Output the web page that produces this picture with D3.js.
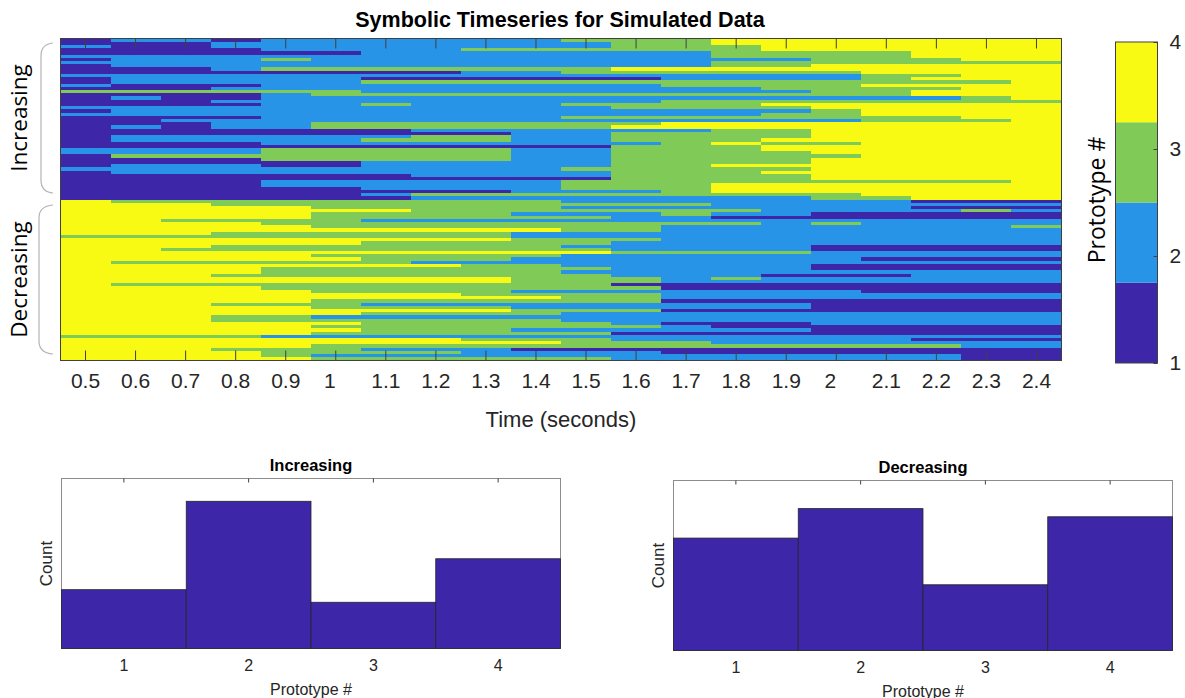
<!DOCTYPE html>
<html lang="en">
<head>
<meta charset="UTF-8" />
<title>Symbolic Timeseries</title>
<script src="https://d3js.org/d3.v7.min.js"></script>
<style>
  body { margin: 0; background: #fff; }
  svg { display: block; }
</style>
</head>
<body>
<div id="chart"></div>
<script>
// ----------- Data ----------- //

var times = ["0.5","0.6","0.7","0.8","0.9","1","1.1","1.2","1.3","1.4",
             "1.5","1.6","1.7","1.8","1.9","2","2.1","2.2","2.3","2.4"];

// one string per trial, one digit per time step (prototype #)
var increasingRows = [
  "12212222223334444444","11122222222334444444","21122222222333444444","11112222333333444444",
  "11111122222223333444","22222222222223333444","12223222222222233344","22222222222223333333",
  "12222222222223344444","11123333333444444444","11111111223333334444","22222222222222223344",
  "12222211111122223444","12222233333333333334","21112222222233334444","11122222222222333344",
  "33333322222222233444","11112333333333333444","12112222222222222234","11122222222233333333",
  "11112232223333444444","22222222222333344444","12222222222222234444","22222222222222334444",
  "11112222223333333344","11222222222222223334","11122333333344444444","12122333333444444444",
  "11111112222223344444","11111111122333344444","12222223322333344444","12222233322333444444",
  "11112222222234334444","11111111111333444444","22223333322333444444","22223333322333344444",
  "13333333322333334444","11113333322333344444","11111122222333344444","12221122222334444444",
  "22222222223333344444","12222222222333444444","11111112222333344444","11111111111333344444",
  "11112222223333333334","11112222223334444444","11111122223334444444","11111111122234444444",
  "11111123333333334444","11111112222222233444"
];

var decreasingRows = [
  "43333333332222222111","44433333333332222222","44444333332222222111","44444443333333222232",
  "44444333322232211111","44444333333221111111","44333322222222222222","44443333333333232222",
  "44444333333322222223","44444444443322222222","44433333322222222222","33333333322222222222",
  "44444444433322222222","44444433333222222222","44433333332222211111","44333333333222211111",
  "44444444444333322222","44444333332222222222","44444433322222221111","43333332222222222222",
  "44444444332222211111","44443333333222211111","44443333332222222222","44433333333222111222",
  "44444444433323222222","44444444433322222222","43333333333111111111","44443333333311111111",
  "44444333322222221111","44444444333322222222","44444444443322222222","44444333333311111111",
  "44433322222222211111","44444333322222211111","44444444433311111111","44444433332222222222",
  "44433222222222222222","44433333332222222222","44444433333211122222","44444333333321111111",
  "44444433322222211111","44444333333111111111","33332222222222222222","44444444333222222111",
  "44444444443332222222","44444333333333333322","44433322211111111111","44443333222211111111",
  "44443222222222222211","44444333333222222211"
];

var prototypes = [1, 2, 3, 4];
var protoColors = ["#3e26a8", "#2894e8", "#80cb58", "#f8fa14"];

// histogram counts per prototype (no tick labels on the count axis)
var countsIncreasing = [173, 433, 136, 264];
var countsDecreasing = [248, 313, 145, 295];

// ----------- Setup ----------- //

var W = 1185, H = 698;
var svg = d3.select("#chart").append("svg")
  .attr("width", W).attr("height", H)
  .style("background", "white");

var rows = increasingRows.concat(decreasingRows).map(function (s) {
  return s.split("").map(Number);
});

var color = d3.scaleOrdinal().domain(prototypes).range(protoColors);

// ----------- Heatmap ----------- //

var hm = { left: 60.5, right: 1061.5, top: 38.5, bottom: 360.5 };

var x = d3.scaleBand().domain(times).range([hm.left, hm.right]);
var y = d3.scaleBand().domain(d3.range(rows.length)).range([hm.top, hm.bottom]);

var cells = [];
rows.forEach(function (r, i) {
  r.forEach(function (v, j) { cells.push({ row: i, t: times[j], v: v }); });
});

svg.append("g")
  .attr("shape-rendering", "crispEdges")
  .selectAll("rect")
  .data(cells)
  .enter()
  .append("rect")
    .attr("x", function (d) { return x(d.t); })
    .attr("y", function (d) { return y(d.row); })
    .attr("width", x.bandwidth() + 0.6)
    .attr("height", y.bandwidth() + 0.6)
    .attr("fill", function (d) { return color(d.v); });

svg.append("rect")
  .attr("x", hm.left).attr("y", hm.top)
  .attr("width", hm.right - hm.left).attr("height", hm.bottom - hm.top)
  .attr("fill", "none").attr("stroke", "#404040").attr("stroke-width", 1);

var xAxis = d3.axisBottom(x)
  .tickSize(-10)
  .tickPadding(13)
  .tickSizeOuter(0);

var gx = svg.append("g")
  .attr("transform", "translate(0," + hm.bottom + ")")
  .call(xAxis);
gx.select(".domain").remove();
gx.selectAll("line").attr("stroke", "#404040");
gx.selectAll("text")
  .attr("font-family", "Liberation Sans, Arial, sans-serif")
  .attr("font-size", 21)
  .attr("fill", "#262626")
  .attr("dx", function (d) { return d.indexOf(".") < 0 ? -6 : 0; });

var gxTop = svg.append("g")
  .attr("transform", "translate(0," + hm.top + ")")
  .call(d3.axisTop(x).tickSize(-10).tickFormat("").tickSizeOuter(0));
gxTop.select(".domain").remove();
gxTop.selectAll("line").attr("stroke", "#404040");

svg.append("text")
  .attr("x", (hm.left + hm.right) / 2)
  .attr("y", 427)
  .attr("text-anchor", "middle")
  .attr("font-family", "Liberation Sans, Arial, sans-serif")
  .attr("font-size", 22)
  .attr("fill", "#262626")
  .text("Time (seconds)");

svg.append("text")
  .attr("x", 560)
  .attr("y", 27)
  .attr("text-anchor", "middle")
  .attr("font-family", "Liberation Sans, Arial, sans-serif")
  .attr("font-weight", "bold")
  .attr("font-size", 21.5)
  .attr("fill", "#000")
  .text("Symbolic Timeseries for Simulated Data");

// group labels with brackets
var groups = [
  { name: "Increasing", y0: 43, y1: 193, xLine: 41 },
  { name: "Decreasing", y0: 205, y1: 354, xLine: 39 }
];

groups.forEach(function (g) {
  var p = d3.path();
  p.moveTo(53, g.y0);
  p.quadraticCurveTo(g.xLine, g.y0 + 1, g.xLine, g.y0 + 13);
  p.lineTo(g.xLine, g.y1 - 13);
  p.quadraticCurveTo(g.xLine, g.y1 - 1, 53, g.y1);
  svg.append("path")
    .attr("d", p.toString())
    .attr("fill", "none")
    .attr("stroke", "#b4b4b4")
    .attr("stroke-width", 1.2);

  svg.append("text")
    .attr("transform", "translate(27," + ((g.y0 + g.y1) / 2) + ") rotate(-90)")
    .attr("text-anchor", "middle")
    .attr("font-family", "Open Sans, sans-serif")
    .attr("font-size", 22.5)
    .attr("fill", "#000")
    .text(g.name);
});

// ----------- Colorbar ----------- //

var cb = { left: 1115.5, right: 1157.5, top: 42, bottom: 363 };
var cbScale = d3.scaleLinear().domain([1, 4]).range([cb.bottom, cb.top]);
var binW = 3 / prototypes.length;

svg.append("g")
  .selectAll("rect")
  .data(prototypes)
  .enter()
  .append("rect")
    .attr("x", cb.left)
    .attr("y", function (d, i) { return cbScale(1 + (i + 1) * binW); })
    .attr("width", cb.right - cb.left)
    .attr("height", function (d, i) { return cbScale(1 + i * binW) - cbScale(1 + (i + 1) * binW); })
    .attr("fill", function (d) { return color(d); });

svg.append("rect")
  .attr("x", cb.left).attr("y", cb.top)
  .attr("width", cb.right - cb.left).attr("height", cb.bottom - cb.top)
  .attr("fill", "none").attr("stroke", "#404040");

var cbAxis = d3.axisRight(cbScale)
  .tickValues(prototypes)
  .tickFormat(d3.format("d"))
  .tickSize(-4)
  .tickPadding(12)
  .tickSizeOuter(0);

var gcb = svg.append("g")
  .attr("transform", "translate(" + cb.right + ",0)")
  .call(cbAxis);
gcb.select(".domain").remove();
gcb.selectAll("line").attr("stroke", "#404040");
gcb.selectAll("text")
  .attr("font-family", "Liberation Sans, Arial, sans-serif")
  .attr("font-size", 21)
  .attr("fill", "#262626");

svg.append("text")
  .attr("transform", "translate(1105,200) rotate(-90)")
  .attr("text-anchor", "middle")
  .attr("font-family", "Open Sans, sans-serif")
  .attr("font-size", 23)
  .attr("fill", "#000")
  .text("Prototype #");

// ----------- Histograms ----------- //

function histogram(opts) {
  var hx = d3.scaleBand().domain(prototypes).range([opts.left, opts.right]);
  var hy = d3.scaleLinear().domain([0, opts.max]).range([opts.bottom, opts.top]);
  var g = svg.append("g");

  g.append("rect")
    .attr("x", opts.left).attr("y", opts.top)
    .attr("width", opts.right - opts.left).attr("height", opts.bottom - opts.top)
    .attr("fill", "white").attr("stroke", "#8c8c8c");

  g.selectAll(".bar")
    .data(opts.counts)
    .enter()
    .append("rect")
      .attr("class", "bar")
      .attr("x", function (d, i) { return hx(prototypes[i]); })
      .attr("y", function (d) { return hy(d); })
      .attr("width", hx.bandwidth())
      .attr("height", function (d) { return opts.bottom - hy(d); })
      .attr("fill", protoColors[0])
      .attr("stroke", "#262626")
      .attr("stroke-width", 0.8);

  var ax = g.append("g")
    .attr("transform", "translate(0," + opts.bottom + ")")
    .call(d3.axisBottom(hx).tickSize(0).tickPadding(11));
  ax.select(".domain").remove();
  ax.selectAll("text")
    .attr("font-family", "Liberation Sans, Arial, sans-serif")
    .attr("font-size", 16)
    .attr("fill", "#262626");

  var axTop = g.append("g")
    .attr("transform", "translate(0," + opts.top + ")")
    .call(d3.axisTop(hx).tickSize(-4).tickFormat("").tickSizeOuter(0));
  axTop.select(".domain").remove();
  axTop.selectAll("line").attr("stroke", "#404040");

  g.append("text")
    .attr("x", (opts.left + opts.right) / 2)
    .attr("y", opts.top - 8)
    .attr("text-anchor", "middle")
    .attr("font-family", "Liberation Sans, Arial, sans-serif")
    .attr("font-weight", "bold")
    .attr("font-size", 16.5)
    .attr("fill", "#000")
    .text(opts.title);

  g.append("text")
    .attr("x", (opts.left + opts.right) / 2)
    .attr("y", opts.bottom + 46)
    .attr("text-anchor", "middle")
    .attr("font-family", "Liberation Sans, Arial, sans-serif")
    .attr("font-size", 16)
    .attr("fill", "#262626")
    .text("Prototype #");

  g.append("text")
    .attr("transform", "translate(" + (opts.left - 10) + "," + ((opts.top + opts.bottom) / 2) + ") rotate(-90)")
    .attr("text-anchor", "middle")
    .attr("font-family", "Liberation Sans, Arial, sans-serif")
    .attr("font-size", 17)
    .attr("fill", "#262626")
    .text("Count");
}

histogram({ title: "Increasing", counts: countsIncreasing, max: 500,
            left: 61.5, right: 560.5, top: 478.5, bottom: 648.5 });
histogram({ title: "Decreasing", counts: countsDecreasing, max: 375,
            left: 673.5, right: 1172.5, top: 480.5, bottom: 650.5 });
</script>
</body>
</html>
